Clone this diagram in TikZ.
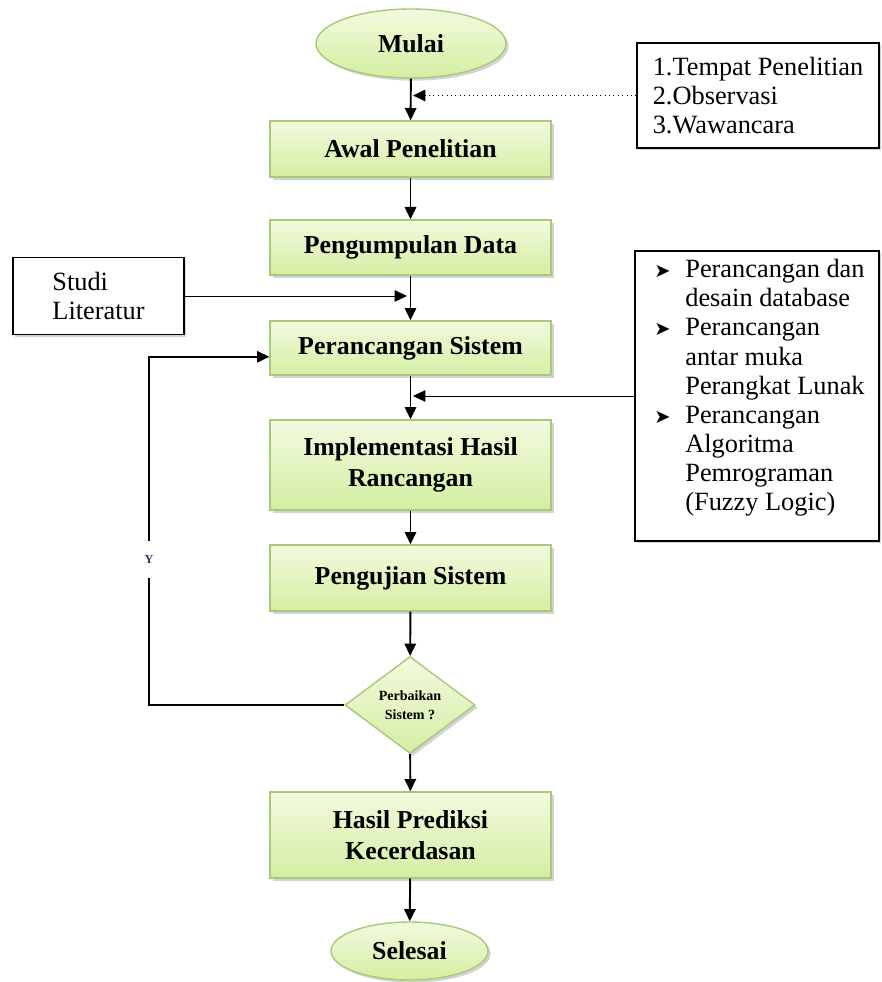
\documentclass[tikz,border=0pt]{standalone}
\usepackage{fontspec}
\setmainfont{Liberation Serif}
\newfontfamily\dingfont{DejaVu Sans}
\usetikzlibrary{shapes.geometric,shadows,arrows.meta}

\definecolor{boxtop}{HTML}{F2FADF}
\definecolor{boxbot}{HTML}{D4EEA2}
\definecolor{boxline}{HTML}{A9C97A}
\definecolor{ylabcol}{HTML}{283A66}

\newcommand{\tbul}{\makebox[0.62cm][l]{\dingfont\fontsize{11}{11}\selectfont ➤}}
\newcommand{\tind}{\hspace*{0.62cm}}

\tikzset{
  procbox/.style={rectangle, draw=boxline, line width=0.8pt, top color=boxtop, bottom color=boxbot,
    drop shadow={shadow xshift=1.5pt, shadow yshift=-1.5pt, opacity=0.35},
    minimum width=5.62cm, align=center, font=\fontsize{14.7}{17.5}\selectfont\bfseries},
  termnode/.style={procbox, ellipse, minimum width=3.8cm, minimum height=1.38cm},
  decnode/.style={procbox, diamond, shape aspect=1.33, inner sep=0pt, minimum width=2.6cm,
    minimum height=1.94cm, font=\fontsize{8}{11}\selectfont\bfseries},
  notebox/.style={rectangle, draw, line width=0.8pt, fill=white,
    drop shadow={shadow xshift=1.2pt, shadow yshift=-1.2pt, opacity=0.35},
    align=left, font=\fontsize{15}{16.6}\selectfont},
  flowarrow/.style={-{Triangle[width=6.5pt,length=7pt]}, line width=1.1pt},
  flowline/.style={line width=0.9pt},
  sidearrow/.style={-{Triangle[width=6.5pt,length=7pt]}, line width=0.5pt},
  dotarrow/.style={sidearrow, dotted, line width=0.9pt},
}

\begin{document}
\begin{tikzpicture}[x=0.02cm,y=-0.02cm]
\useasboundingbox (0,0) rectangle (881,982);

% alur utama
\node[termnode] (mulai) at (411,43.5) {Mulai};
\node[procbox, minimum height=1.12cm] (awal) at (410.5,149) {Awal Penelitian};
\node[procbox, minimum height=1.1cm] (kumpul) at (410.5,247.5) {Pengumpulan Data};
\node[procbox, minimum height=1.08cm] (rancang) at (410.5,348) {Perancangan Sistem};
\node[procbox, minimum height=1.8cm] (implementasi) at (410.5,465) {Implementasi Hasil\\Rancangan};
\node[procbox, minimum height=1.32cm] (uji) at (410.5,578) {Pengujian Sistem};
\node[decnode] (perbaikan) at (410,705) {Perbaikan\\Sistem ?};
\node[procbox, minimum height=1.72cm] (hasil) at (410.5,835) {Hasil Prediksi\\Kecerdasan};
\node[termnode, minimum width=3.14cm, minimum height=1.16cm] (selesai) at (409.5,951) {Selesai};

% kotak keterangan
\node[notebox, minimum width=4.84cm, minimum height=2.1cm] (lokasi) at (758,95.5)
  {1.Tempat Penelitian\\2.Observasi\\3.Wawancara};
\node[notebox, minimum width=3.42cm, minimum height=1.54cm] (studi) at (98.5,296)
  {Studi\\Literatur};
\node[notebox, minimum width=4.88cm, minimum height=5.8cm] (desain) at (757,396) {};
\node[anchor=north west, inner sep=0pt, align=left, font=\fontsize{15}{16.6}\selectfont] (desaintext) at (654,259)
  {\tbul Perancangan dan\\\tind desain database\\
   \tbul Perancangan\\\tind antar muka\\\tind Perangkat Lunak\\
   \tbul Perancangan\\\tind Algoritma\\\tind Pemrograman\\\tind (Fuzzy Logic)};

\coordinate (lokasiin) at (413,95.5);
\coordinate (studiin) at (407,296);
\coordinate (desainin) at (413,396);

% panah
\draw[flowarrow] (mulai) -- (awal);
\draw[flowarrow] (awal) -- (kumpul);
\draw[flowarrow] (kumpul) -- (rancang);
\draw[flowarrow] (rancang) -- (implementasi);
\draw[flowarrow] (implementasi) -- (uji);
\draw[flowarrow] (uji) -- (perbaikan);
\draw[flowarrow] (perbaikan) -- (hasil);
\draw[flowarrow] (hasil) -- (selesai);

\draw[dotarrow] (lokasi.west) -- (lokasiin);
\draw[sidearrow] (studi.east) -- (studiin);
\draw[sidearrow] (desain.west) -- (desainin);

% kembali ke perancangan
\node[inner sep=0pt, minimum height=0.74cm, text=ylabcol, font=\fontsize{7}{8}\selectfont\bfseries] (ylab) at (149,559.5) {Y};
\draw[flowline] (perbaikan.west) -| (ylab.south);
\draw[flowarrow, line width=0.9pt] (ylab.north) |- ([yshift=-5pt]rancang.west);
\end{tikzpicture}
\end{document}
